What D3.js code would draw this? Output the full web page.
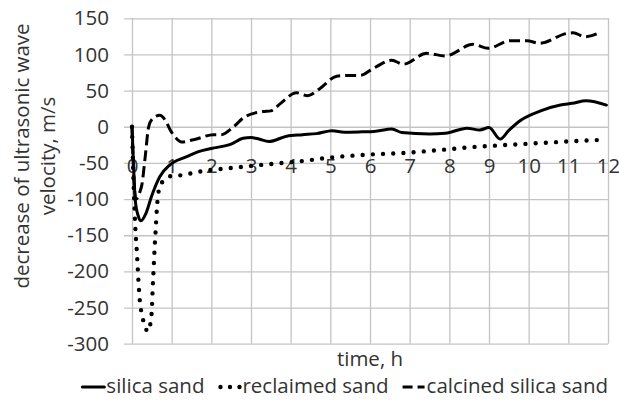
<!DOCTYPE html>
<html>
<head>
<meta charset="utf-8">
<script src="https://cdn.jsdelivr.net/npm/d3@7"></script>
<style>
  html, body { margin: 0; padding: 0; background: #fff; }
  svg { display: block; }
  text { font-family: "Open Sans", Lato, sans-serif; fill: #333; }
</style>
</head>
<body>
<svg id="chart" width="619" height="401"></svg>
<script>
// Series: decrease of ultrasonic wave velocity over time
const silicaTime = [0, 0.04, 0.08, 0.15, 0.23, 0.35, 0.5, 0.7, 0.95, 1.35, 1.7, 2.0, 2.5, 2.8, 3.0, 3.2, 3.45, 3.9, 4.3, 4.65, 5.05, 5.35, 5.8, 6.1, 6.55, 6.8, 7.5, 7.9, 8.45, 8.77, 9.0, 9.28, 9.5, 9.8, 10.3, 10.8, 11.1, 11.45, 11.96];
const silicaValue = [0, -55, -100, -122, -130, -120, -95, -69, -53, -42, -34, -30, -24, -16, -15, -17, -20.5, -13, -11, -9.5, -5.5, -7.5, -7, -6.5, -3, -8, -10, -9, -2, -4.5, -1, -17, -5, 9, 22, 30, 32.5, 36, 30];

const reclaimedTime = [0, 0.03, 0.08, 0.13, 0.17, 0.2, 0.24, 0.3, 0.4, 0.47, 0.5, 0.52, 0.545, 0.57, 0.6, 0.63, 0.7, 0.85, 1.0, 1.25, 1.7, 2.5, 3.4, 4.2, 5.1, 5.8, 6.9, 7.8, 8.6, 9.5, 10.3, 11.1, 11.9];
const reclaimedValue = [0, -60, -135, -180, -220, -242, -257, -271, -283, -270, -253, -226, -197, -168, -140, -111, -83, -72, -68, -67, -62, -57, -52, -48, -42, -39, -36, -32, -28, -25, -22.5, -20, -18];

const calcinedTime = [0, 0.05, 0.1, 0.2, 0.25, 0.33, 0.42, 0.5, 0.7, 0.85, 0.96, 1.1, 1.25, 1.55, 2.06, 2.25, 2.56, 2.85, 3.3, 3.5, 3.74, 4.15, 4.43, 4.74, 5.16, 5.45, 5.75, 6.09, 6.55, 6.84, 7.43, 7.9, 8.6, 8.98, 9.53, 9.95, 10.28, 10.96, 11.12, 11.42, 11.8];
const calcinedValue = [0, -75, -100, -90, -80, -43, 0, 10, 16, 8, -4, -15, -21, -18, -11, -11, 0, 14, 21, 22, 32, 47, 43, 53, 70, 71, 71, 81, 92, 86.5, 101.5, 98, 114, 108.5, 119, 119, 115.5, 129, 130, 124.5, 130.5];

const seriesNames = ["silica sand", "reclaimed sand", "calcined silica sand"];
const xTickValues = [0, 1, 2, 3, 4, 5, 6, 7, 8, 9, 10, 11, 12];
const yTickValues = [150, 100, 50, 0, -50, -100, -150, -200, -250, -300];
const xTitle = "time, h";
const yTitleLines = ["decrease of ultrasonic wave", "velocity, m/s"];

const svg = d3.select("#chart");
const FONT = 20.5;
const FAMILY = "'Open Sans', Lato, sans-serif";
const plotLeft = 132, plotRight = 608, plotTop = 18.3, plotBottom = 343.7;

const x = d3.scaleLinear().domain([0, 12]).range([plotLeft, plotRight]);
const y = d3.scaleLinear().domain([-300, 150]).range([plotBottom, plotTop]);

svg.append("rect").attr("width", 619).attr("height", 401).attr("fill", "#fff");

// Horizontal gridlines with the short outside tick, plus value labels
const yAxis = svg.append("g")
  .attr("transform", `translate(${plotRight},0)`)
  .call(d3.axisLeft(y).tickValues(yTickValues).tickSize(plotRight - 124).tickPadding(15)
        .tickFormat(d3.format("d")));
yAxis.select(".domain").remove();
yAxis.selectAll(".tick line").attr("stroke", "#c4c4c4").attr("stroke-width", 1.3);
yAxis.selectAll(".tick text").attr("font-size", FONT).attr("fill", "#333")
  .style("font-family", FAMILY)
  .text(d => d < 0 ? "-" + Math.abs(d) : String(d));

// Vertical gridlines
const xGrid = svg.append("g")
  .attr("transform", `translate(0,${plotBottom})`)
  .call(d3.axisBottom(x).tickValues(xTickValues).tickSize(-(plotBottom - plotTop)).tickFormat(""));
xGrid.select(".domain").remove();
xGrid.selectAll(".tick line").attr("stroke", "#c4c4c4").attr("stroke-width", 1.3);

// Time labels sit beside the horizontal axis crossing at zero
const xLabels = svg.append("g")
  .attr("transform", `translate(0,${y(0)})`)
  .call(d3.axisBottom(x).tickValues(xTickValues).tickSize(0).tickPadding(31.8).tickFormat(d3.format("d")));
xLabels.select(".domain").remove();
xLabels.selectAll(".tick text").attr("font-size", FONT).attr("fill", "#333")
  .style("font-family", FAMILY);

// Series lines
const line = d3.line()
  .x(d => x(d[0]))
  .y(d => y(d[1]))
  .curve(d3.curveMonotoneX);

const series = [
  { name: seriesNames[0], data: d3.zip(silicaTime, silicaValue), dash: null, legendDash: null, cap: "round", width: 3 },
  { name: seriesNames[1], data: d3.zip(reclaimedTime, reclaimedValue), dash: "0 10.2", legendDash: "0 9.5", cap: "round", width: 4.4 },
  { name: seriesNames[2], data: d3.zip(calcinedTime, calcinedValue), dash: "11 5", legendDash: "10 5", cap: "butt", width: 3 }
];

series.forEach(s => {
  svg.append("path")
    .datum(s.data)
    .attr("d", line)
    .attr("fill", "none")
    .attr("stroke", "#000")
    .attr("stroke-width", s.width)
    .attr("stroke-linecap", s.cap)
    .attr("stroke-linejoin", "round")
    .attr("stroke-dasharray", s.dash);
});

// Axis titles
svg.append("text")
  .attr("x", (plotLeft + plotRight) / 2).attr("y", 366)
  .attr("text-anchor", "middle").attr("font-size", FONT)
  .text(xTitle);

const yTitle = svg.append("text")
  .attr("transform", "translate(0,156) rotate(-90)")
  .attr("text-anchor", "middle").attr("font-size", FONT);
yTitle.append("tspan").attr("x", 0).attr("y", 29).text(yTitleLines[0]);
yTitle.append("tspan").attr("x", 0).attr("y", 55).text(yTitleLines[1]);

// Legend along the bottom, right-aligned with the plot edge
const legend = svg.append("g");
const symW = 22, symGap = 2, itemGap = 14;
let cursor = 0;
series.forEach(s => {
  const g = legend.append("g").attr("transform", `translate(${cursor},0)`);
  g.append("line")
    .attr("x1", s.cap === "round" && s.legendDash ? 2 : 0).attr("x2", symW).attr("y1", -6).attr("y2", -6)
    .attr("stroke", "#000").attr("stroke-width", s.width)
    .attr("stroke-linecap", s.cap)
    .attr("stroke-dasharray", s.legendDash);
  const t = g.append("text").attr("x", symW + symGap).attr("y", 0)
    .attr("font-size", FONT).text(s.name);
  cursor += symW + symGap + t.node().getComputedTextLength() + itemGap;
});
const legendW = cursor - itemGap;
legend.attr("transform", `translate(${608 - legendW},393)`);
</script>
</body>
</html>
